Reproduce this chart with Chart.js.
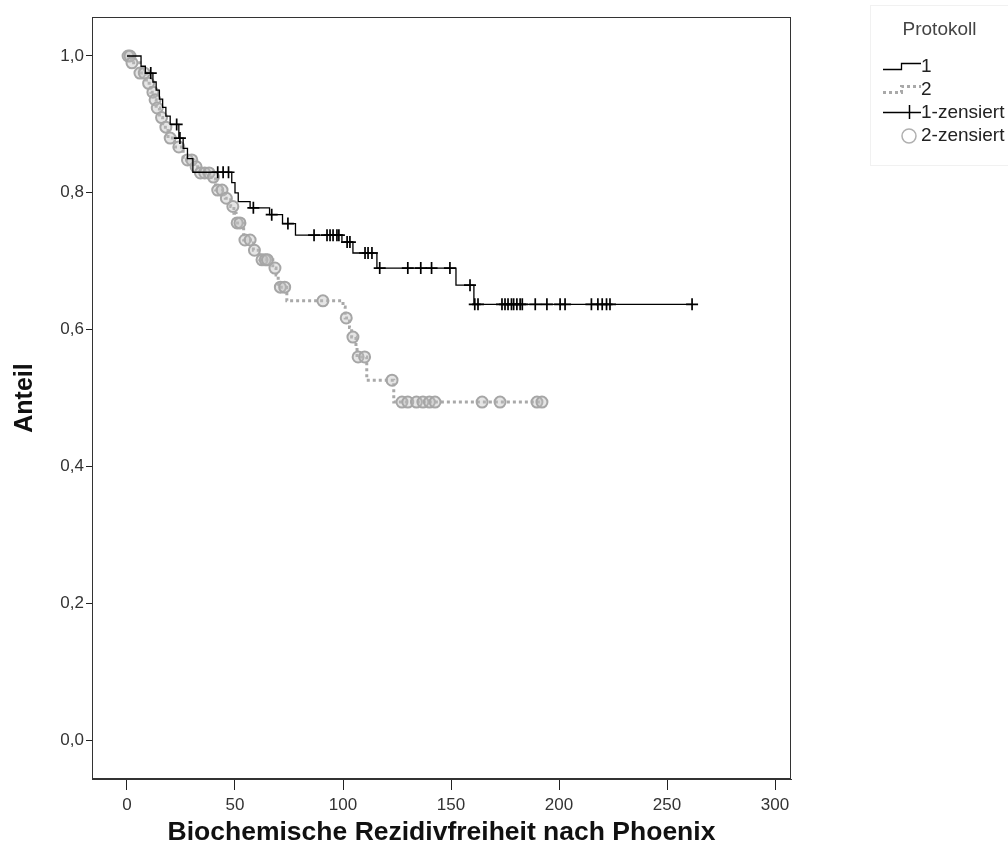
<!DOCTYPE html>
<html><head><meta charset="utf-8">
<script src="https://cdn.jsdelivr.net/npm/chart.js@4/dist/chart.umd.min.js"></script>
<style>
html,body{margin:0;padding:0;background:#fff;}
#wrap{position:relative;width:1008px;height:856px;}
#c{position:absolute;left:0;top:0;}
#legend{position:absolute;left:870px;top:5px;width:137px;height:159px;border:1px solid #f1f1f1;border-right:none;font-family:"Liberation Sans",Arial,sans-serif;color:#222;}
#legend .t{position:absolute;left:0;width:137px;top:12px;text-align:center;font-size:19px;color:#444;}
#legend .row{position:absolute;left:0;height:24px;width:137px;}
#legend .row svg{position:absolute;left:10px;top:0;}
#legend .row span{position:absolute;left:50px;top:1px;font-size:19px;line-height:22px;}
</style></head>
<body>
<div id="wrap">
<canvas id="c" width="1008" height="856"></canvas>
<div id="legend">
  <div class="t">Protokoll</div>
  <div class="row" style="top:48px"><svg width="40" height="24"><path d="M2 15.5 H20.5 V9.5 H45" fill="none" stroke="#000" stroke-width="1.3"/></svg><span>1</span></div>
  <div class="row" style="top:71px"><svg width="40" height="24"><path d="M2 15.5 H20.5 V9.5 H45" fill="none" stroke="#a9a9a9" stroke-width="3" stroke-dasharray="3 3"/></svg><span>2</span></div>
  <div class="row" style="top:94px"><svg width="40" height="24"><path d="M2 12.5 H45 M28.5 5 V19" fill="none" stroke="#000" stroke-width="1.5"/></svg><span>1-zensiert</span></div>
  <div class="row" style="top:117px"><svg width="40" height="24"><circle cx="28" cy="13" r="7" fill="none" stroke="#b0b0b0" stroke-width="1.5"/></svg><span>2-zensiert</span></div>
</div>
</div>
<script>
// ---- data ----
const xTicks = [0, 50, 100, 150, 200, 250, 300];
const yTicks = [0.0, 0.2, 0.4, 0.6, 0.8, 1.0];

// Protokoll 1: step times and survival after each step
const c1Times = [0, 6.5, 8.5, 12, 13.5, 15, 16.5, 18, 20, 24, 26, 28, 30.5, 48.5, 50, 51.5, 57, 66, 72, 78, 99.5, 104.6, 115.7, 152.3, 160.6, 261.6];
const c1Surv  = [1.0, 0.985, 0.975, 0.962, 0.950, 0.937, 0.925, 0.912, 0.900, 0.880, 0.865, 0.850, 0.830, 0.815, 0.800, 0.787, 0.778, 0.768, 0.755, 0.738, 0.728, 0.712, 0.690, 0.665, 0.637, 0.637];
const c1Censored = [11, 23, 24.5, 42, 44.5, 47, 58.5, 67, 74.5, 86.6, 92.6, 94, 95.4, 97.2, 98.1, 101.9, 103.2, 110.2, 111.6, 113.4, 117, 130, 136, 141, 149.5, 158.8, 161, 162.5, 173.6, 175, 176.4, 178, 179, 180.5, 182, 183, 189, 194.4, 200.5, 202.8, 215, 218, 220, 222, 223.6, 261.6];

// Protokoll 2
const c2Times = [0, 2, 6, 9, 11, 12.5, 13.5, 15, 16.5, 19, 22, 26, 31, 34, 39, 41, 45.5, 48, 49.5, 50.5, 54, 58.5, 61.5, 67.5, 69, 70, 74, 100, 101, 103, 104, 106, 106.5, 111, 123.5, 192.1];
const c2Surv  = [1.0, 0.990, 0.975, 0.960, 0.947, 0.936, 0.924, 0.910, 0.896, 0.880, 0.867, 0.848, 0.838, 0.829, 0.823, 0.804, 0.792, 0.780, 0.770, 0.756, 0.731, 0.716, 0.702, 0.690, 0.680, 0.662, 0.642, 0.633, 0.617, 0.603, 0.589, 0.575, 0.560, 0.526, 0.494, 0.494];
const c2Censored = [0.5, 1.4, 2.3, 6, 8, 10, 12, 13, 14, 16, 18, 20, 24, 28, 30, 32, 34, 36, 38, 40, 42, 44, 46, 49, 51, 52.3, 54.6, 57, 59, 62.5, 64, 65, 68.5, 71, 73, 90.7, 101.5, 104.6, 107, 110, 122.7, 127.3, 130, 134, 137, 140, 142.6, 164.4, 172.7, 189.8, 192.1];

function survAt(times, surv, t) {
  let s = surv[0];
  for (let i = 0; i < times.length; i++) if (times[i] <= t) s = surv[i];
  return s;
}
const curve1 = c1Times.map((t, i) => ({x: t, y: c1Surv[i]}));
const curve2 = c2Times.map((t, i) => ({x: t, y: c2Surv[i]}));
const cens1 = c1Censored.map(t => ({x: t, y: survAt(c1Times, c1Surv, t)}));
const cens2 = c2Censored.map(t => ({x: t, y: survAt(c2Times, c2Surv, t)}));

const FONT = '"Liberation Sans", Arial, sans-serif';

const framePlugin = {
  id: 'frame',
  afterDraw(chart) {
    const a = chart.chartArea, ctx = chart.ctx;
    ctx.save();
    ctx.strokeStyle = '#333';
    ctx.lineWidth = 1;
    ctx.strokeRect(Math.round(a.left) + 0.5, Math.round(a.top) + 0.5, Math.round(a.right - a.left) - 1, Math.round(a.bottom - a.top) - 1);
    ctx.restore();
  }
};

new Chart(document.getElementById('c'), {
  type: 'scatter',
  data: {
    datasets: [
      {label: '1-zensiert', data: cens1, showLine: false, pointStyle: 'cross', pointRadius: 6, borderColor: '#000', borderWidth: 1.7, pointHoverRadius: 6},
      {label: '1', data: curve1, showLine: true, stepped: 'before', borderColor: '#000', borderWidth: 1.3, pointRadius: 0, fill: false},
      {label: '2-zensiert', data: cens2, showLine: false, pointStyle: 'circle', pointRadius: 5.5, borderColor: '#a6a6a6', backgroundColor: 'rgba(190,190,190,0.4)', borderWidth: 2},
      {label: '2', data: curve2, showLine: true, stepped: 'before', borderColor: '#a9a9a9', borderWidth: 3, borderDash: [3, 3], pointRadius: 0, fill: false}
    ]
  },
  options: {
    responsive: false,
    animation: false,
    events: [],
    layout: {padding: {top: 17, right: 217, left: 0, bottom: 0}},
    plugins: {legend: {display: false}, tooltip: {enabled: false}},
    scales: {
      x: {
        type: 'linear', min: -16.2, max: 307.4,
        afterFit(s) { s.height = 77; },
        afterBuildTicks(s) { s.ticks = xTicks.map(v => ({value: v})); },
        grid: {drawOnChartArea: false, drawTicks: true, tickLength: 11, color: '#222', lineWidth: 1},
        border: {display: true, color: '#333', width: 1},
        ticks: {padding: 5, color: '#333', font: {family: FONT, size: 17}, maxRotation: 0, callback: v => String(v)},
        title: {display: true, text: 'Biochemische Rezidivfreiheit nach Phoenix', color: '#111', font: {family: FONT, size: 26.5, weight: 'bold'}, padding: {top: 0, bottom: 7}}
      },
      y: {
        type: 'linear', min: -0.057, max: 1.057,
        afterFit(s) { s.width = 92; },
        afterBuildTicks(s) { s.ticks = yTicks.map(v => ({value: v})); },
        grid: {drawOnChartArea: false, drawTicks: true, tickLength: 6, color: '#222', lineWidth: 1},
        border: {display: true, color: '#333', width: 1},
        ticks: {padding: 2, color: '#333', font: {family: FONT, size: 17}, callback: v => (Math.abs(v) < 1e-9 ? 0 : v).toFixed(1).replace('.', ',')},
        title: {display: true, text: 'Anteil', color: '#111', font: {family: FONT, size: 25, weight: 'bold'}, padding: {top: 10, bottom: 0}}
      }
    }
  },
  plugins: [framePlugin]
});
</script>
</body></html>
